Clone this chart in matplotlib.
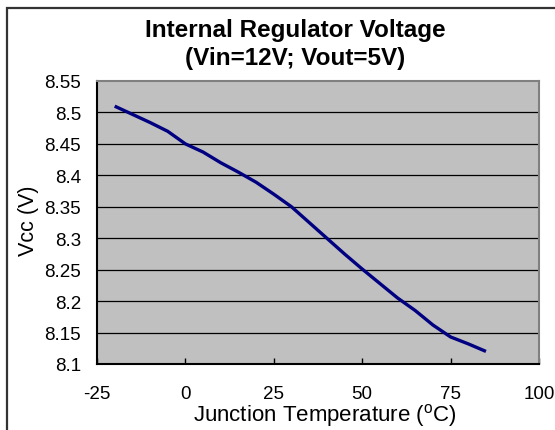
import matplotlib
matplotlib.use("Agg")
import matplotlib.pyplot as plt
from matplotlib.patches import Rectangle

# ---- data ----
temperature_c = [-20, -10, -5, 0, 5, 10, 15, 20, 25, 30, 35, 40, 45, 50, 55, 60, 65, 70, 75, 80, 85]
vcc_v = [8.510, 8.484, 8.470, 8.450, 8.437, 8.420, 8.405, 8.389, 8.370, 8.350,
         8.325, 8.300, 8.275, 8.251, 8.228, 8.205, 8.185, 8.162, 8.143, 8.132, 8.120]
x_ticks = [-25, 0, 25, 50, 75, 100]
y_ticks = [8.1, 8.15, 8.2, 8.25, 8.3, 8.35, 8.4, 8.45, 8.5, 8.55]
y_tick_labels = ["8.1", "8.15", "8.2", "8.25", "8.3", "8.35", "8.4", "8.45", "8.5", "8.55"]
title_lines = ["Internal Regulator Voltage", "(Vin=12V; Vout=5V)"]

plt.rcParams['font.family'] = ['Liberation Sans', 'DejaVu Sans']
plt.rcParams['axes.unicode_minus'] = False
plt.rcParams['mathtext.fontset'] = 'custom'
plt.rcParams['mathtext.rm'] = 'Liberation Sans'

W, H = 555, 431
fig = plt.figure(figsize=(W / 100, H / 100), dpi=100)

# outer chart border (cropped on right / bottom)
fig.patches.append(Rectangle((7 / W, -0.1), 1.2, 1 - 9 / H + 0.1, transform=fig.transFigure,
                             fill=False, edgecolor='#333333', linewidth=1.6))

L, R, T, B = 97, 539, 82, 365
ax = fig.add_axes([L / W, 1 - B / H, (R - L) / W, (B - T) / H])
ax.set_facecolor('#C0C0C0')

ax.plot(temperature_c, vcc_v, color='#000080', linewidth=2.4, solid_capstyle='butt', zorder=3)

ax.set_xlim(-25, 100)
ax.set_ylim(8.1, 8.55)
ax.set_xticks(x_ticks)
ax.set_xticklabels([str(v) for v in x_ticks])
ax.set_yticks(y_ticks)
ax.set_yticklabels(y_tick_labels)

for y in y_ticks[1:-1]:
    ax.axhline(y, color='black', linewidth=0.9, zorder=2)

for s in ['top', 'right']:
    ax.spines[s].set_color('#808080')
    ax.spines[s].set_linewidth(1.5)
for s in ['left', 'bottom']:
    ax.spines[s].set_color('black')
    ax.spines[s].set_linewidth(1.5)

ax.tick_params(axis='x', direction='in', length=4, width=1, pad=15, labelsize=13.5, colors='black')
ax.tick_params(axis='y', direction='in', length=0, pad=11.5, labelsize=13.5, colors='black')

ax.set_xlabel(r'Junction Temperature ($^\mathrm{o}$C)', fontsize=16)
ax.xaxis.label.set_va('baseline')
ax.xaxis.set_label_coords((325 - L) / (R - L), (B - 421) / (B - T))
ax.set_ylabel('Vcc (V)', fontsize=15.5)
ax.yaxis.set_label_coords((39 - L) / (R - L), 0.51)

fig.text(295 / W, 1 - 37.5 / H, title_lines[0], ha='center', va='baseline',
         fontsize=17.5, fontweight='bold')
fig.text(295 / W, 1 - 65 / H, title_lines[1], ha='center', va='baseline',
         fontsize=17.5, fontweight='bold')

fig.savefig('out.png', dpi=100)
